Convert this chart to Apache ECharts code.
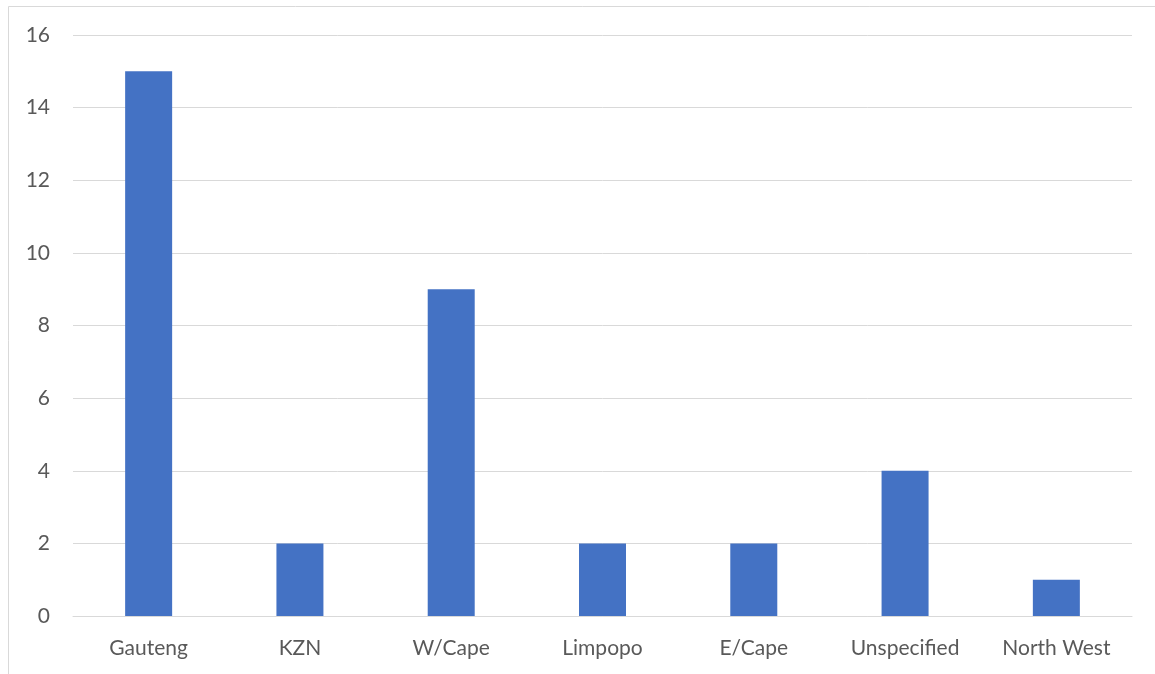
<!DOCTYPE html>
<html>
<head>
<meta charset="utf-8">
<script src="https://cdn.jsdelivr.net/npm/echarts@6/dist/echarts.min.js"></script>
<style>
  html, body { margin: 0; padding: 0; background: #fff; }
  #chart { width: 1155px; height: 674px; }
</style>
</head>
<body>
<div id="chart"></div>
<script>
// Cases by province
const provinces = ['Gauteng', 'KZN', 'W/Cape', 'Limpopo', 'E/Cape', 'Unspecified', 'North West'];
const counts = [15, 2, 9, 2, 2, 4, 1];

const labelFont = 'Lato, "Open Sans", sans-serif';

const chart = echarts.init(document.getElementById('chart'), null, { renderer: 'canvas' });
chart.setOption({
  animation: false,
  backgroundColor: '#ffffff',
  graphic: [{
    type: 'rect',
    shape: { x: 8.5, y: 6.5, width: 1200, height: 700 },
    style: { fill: 'none', stroke: '#d9d9d9', lineWidth: 1 },
    silent: true
  }],
  grid: { left: 73, right: 23, top: 35, bottom: 58 },
  xAxis: {
    type: 'category',
    data: provinces,
    axisLine: { show: true, lineStyle: { color: '#d9d9d9', width: 1 } },
    axisTick: { show: false },
    axisLabel: { color: '#595959', fontSize: 21, fontFamily: labelFont, margin: 22 }
  },
  yAxis: {
    type: 'value',
    min: 0,
    max: 16,
    interval: 2,
    axisLine: { show: false },
    axisTick: { show: false },
    splitLine: { lineStyle: { color: '#d9d9d9', width: 1 } },
    axisLabel: { color: '#595959', fontSize: 21, fontFamily: labelFont, margin: 23 }
  },
  series: [{
    type: 'bar',
    data: counts,
    barWidth: 47,
    itemStyle: { color: '#4472C4' }
  }]
});
</script>
</body>
</html>
